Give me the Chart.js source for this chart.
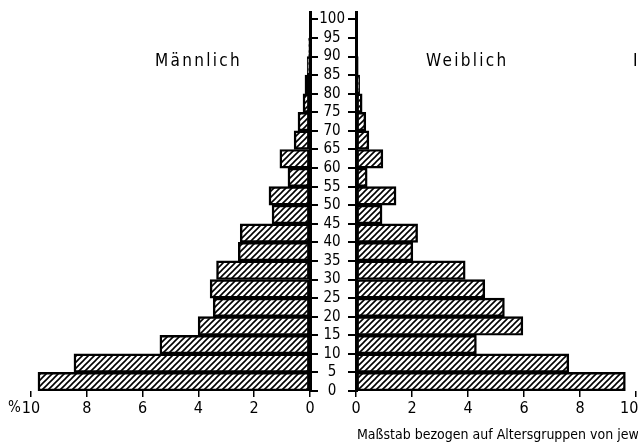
<!DOCTYPE html>
<html>
<head>
<meta charset="utf-8">
<script src="https://cdn.jsdelivr.net/npm/chart.js@4"></script>
<style>
	html, body { margin: 0; padding: 0; background: #fff; overflow: hidden; width: 638px; height: 442px; }
	#wrap { position: relative; width: 638px; height: 442px; overflow: hidden; }
	canvas { position: absolute; top: 0; }
	.txt { position: absolute; font-family: "Liberation Sans Narrow", "DejaVu Sans Condensed", sans-serif; color: #000; white-space: nowrap; line-height: 1; }
</style>
</head>
<body>
<div id="wrap">
	<canvas id="mycanvas1" width="330" height="442" style="left:0px"></canvas>
	<canvas id="mycanvas2" width="380" height="442" style="left:316px"></canvas>
	<div class="txt" style="left:155px; top:52px; font-size:17px; letter-spacing:2.3px">Männlich</div>
	<div class="txt" style="left:426px; top:52px; font-size:17px; letter-spacing:2.3px">Weiblich</div>
	<div class="txt" style="left:633px; top:52px; font-size:17px">I</div>
	<div class="txt" style="left:8px; top:400px; font-size:15px">%</div>
	<div class="txt" style="left:357px; top:427px; font-size:14px">Maßstab bezogen auf Altersgruppen von jeweils</div>
</div>
<script>
// age groups (start of each 5-year class)
var ageGroups = [0, 5, 10, 15, 20, 25, 30, 35, 40, 45, 50, 55, 60, 65, 70, 75, 80, 85, 90, 95];
var maennlich = [9.75, 8.46, 5.38, 4.01, 3.47, 3.58, 3.35, 2.57, 2.5, 1.36, 1.47, 0.79, 1.08, 0.57, 0.43, 0.25, 0.18, 0.1, 0.05, 0.02];
var weiblich = [9.62, 7.6, 4.3, 5.96, 5.3, 4.6, 3.9, 2.03, 2.2, 0.93, 1.43, 0.4, 0.96, 0.46, 0.35, 0.22, 0.13, 0.08, 0.05, 0.03];
var pctTicks = [0, 2, 4, 6, 8, 10];
var ageTicks = [0, 5, 10, 15, 20, 25, 30, 35, 40, 45, 50, 55, 60, 65, 70, 75, 80, 85, 90, 95, 100];

var fontFam = '"Liberation Sans Narrow", "DejaVu Sans Condensed", sans-serif';

function hatch(ctx) {
	var c = document.createElement('canvas');
	c.width = 6;
	c.height = 6;
	var p = c.getContext('2d');
	p.strokeStyle = '#000';
	p.lineWidth = 1.6;
	p.beginPath();
	p.moveTo(-1, 7); p.lineTo(7, -1);
	p.moveTo(-1, 1); p.lineTo(1, -1);
	p.moveTo(5, 7); p.lineTo(7, 5);
	p.stroke();
	return ctx.createPattern(c, 'repeat');
}

function points(values) {
	var out = [];
	for (var i in ageGroups) {
		out.push({ x: values[i], y: ageGroups[i] + 2.5 });
	}
	return out;
}

function makeChart(id, values, left) {
	var ctx = document.getElementById(id).getContext('2d');
	var pattern = hatch(ctx);
	return new Chart(ctx, {
		type: 'bar',
		data: {
			datasets: [{
				data: points(values),
				backgroundColor: pattern,
				borderColor: '#000',
				borderWidth: 1.8,
				borderSkipped: false,
				barPercentage: 1,
				categoryPercentage: 1
			}]
		},
		options: {
			indexAxis: 'y',
			responsive: false,
			animation: false,
			layout: {
				padding: left ? { left: 31, right: 0, top: 12, bottom: 21 } : { left: 0, right: 60, top: 12, bottom: 21 }
			},
			plugins: { legend: { display: false }, tooltip: { enabled: false } },
			scales: {
				x: {
					type: 'linear',
					min: 0,
					max: 10,
					reverse: left,
					afterBuildTicks: function(scale) {
						scale.ticks = pctTicks.map(function(v) { return { value: v }; });
					},
					afterFit: function(scale) { scale.height = 30; },
					ticks: {
						color: '#000',
						padding: 2,
						maxRotation: 0,
						font: { family: fontFam, size: 16 },
						callback: function(v) { return (!left && v == 10) ? '10%' : v; }
					},
					grid: { drawOnChartArea: false, drawTicks: true, tickLength: 6, color: '#000', lineWidth: 1.5 },
					border: { display: false }
				},
				y: {
					type: 'linear',
					position: left ? 'right' : 'left',
					min: 0,
					max: 102,
					offset: false,
					afterBuildTicks: function(scale) {
						scale.ticks = ageTicks.map(function(v) { return { value: v }; });
					},
					afterFit: function(scale) { scale.width = left ? 20 : 40; },
					ticks: {
						display: !left,
						autoSkip: false,
						color: '#000',
						padding: 3,
						crossAlign: 'center',
						font: { family: fontFam, size: 15 }
					},
					grid: { drawOnChartArea: false, drawTicks: true, tickLength: 8, color: '#000', lineWidth: 2, offset: false },
					border: { display: true, color: '#000', width: 3 }
				}
			}
		}
	});
}

makeChart('mycanvas1', maennlich, true);
makeChart('mycanvas2', weiblich, false);
</script>
</body>
</html>
